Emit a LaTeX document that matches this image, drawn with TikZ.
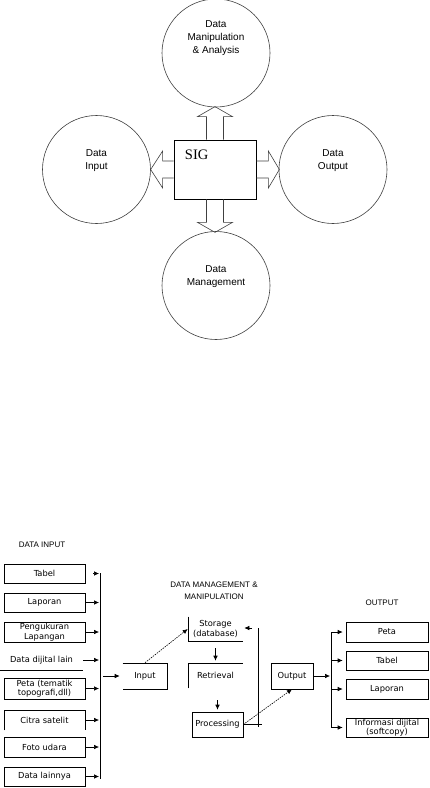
\documentclass[tikz,border=0pt]{standalone}
\usepackage{fontspec}
\setmainfont{Liberation Sans}
\newfontfamily\sigfont{Liberation Serif}
\newfontfamily\widefont{DejaVu Sans}
\usepackage{tikz}
\usetikzlibrary{calc,arrows.meta,positioning}
\newcommand\boxfont{\widefont\fontsize{8.3}{9.5}\selectfont}
\newcommand\ttlfont{\fontsize{8}{12}\selectfont}

\begin{document}
\begin{tikzpicture}[x=1pt, y=-1pt,
  bubble/.style={circle, draw=black!75, line width=0.6pt, minimum size=108pt, inner sep=0pt},
  bubtxt/.style={font=\fontsize{10}{13}\selectfont, align=center},
  blk/.style={draw=black!75, line width=0.6pt},
  box/.style={draw, line width=0.6pt, minimum width=81pt, minimum height=19pt, inner sep=0pt, font=\boxfont, align=center},
  openbox/.style={box, draw=none},
  ttl/.style={font=\ttlfont, align=center},
  arr/.style={-{Latex[length=5pt,width=4.5pt]}, line width=0.6pt},
  dotarr/.style={arr, dash pattern=on 1.5pt off 1pt}
]
\useasboundingbox (0,0) rectangle (429,788);
% ---- SIG overview
\node[draw, line width=0.7pt, minimum width=82pt, minimum height=59pt] (sig) at (215,169.5) {};
\node[font=\sigfont\fontsize{14.5}{16}\selectfont] (sigtxt) at ($(sig.north west)+(23,15)$) {SIG};
\node[bubble] (manip) at (216,53) {};
\node[bubtxt] (maniptxt) at ($(manip)+(0,-14.5)$) {Data\\Manipulation\\\& Analysis};
\node[bubble] (din) at (96.5,169.5) {};
\node[bubtxt] (dintxt) at ($(din)+(0,-9)$) {Data\\Input};
\node[bubble] (dout) at (333,169.5) {};
\node[bubtxt] (douttxt) at ($(dout)+(0,-9)$) {Data\\Output};
\node[bubble] (dman) at (216,285.5) {};
\node[bubtxt] (dmantxt) at ($(dman)+(0,-8.5)$) {Data\\Management};
% block arrows out of the box
\draw[blk] ([xshift=-8.5pt]sig.north) -- ++(0,-23) -- ++(-9,0) -- ++(17.5,-10) -- ++(17.5,10) -- ++(-9,0) -- ++(0,23);
\draw[blk] ([xshift=-8.5pt]sig.south) -- ++(0,23) -- ++(-9,0) -- ++(17.5,10) -- ++(17.5,-10) -- ++(-9,0) -- ++(0,-23);
\draw[blk] ([yshift=8.5pt]sig.west) -- ++(-11,0) -- ++(0,-10) -- ++(-12,18.5) -- ++(12,18.5) -- ++(0,-10) -- ++(11,0);
\draw[blk] ([yshift=8.5pt]sig.east) -- ++(12,0) -- ++(0,-10) -- ++(11,18.5) -- ++(-11,18.5) -- ++(0,-10) -- ++(-12,0);
% ---- data input
\node[ttl] (tin) at (42,545) {DATA INPUT};
\node[box] (tabel) at (44.5,573.5) {Tabel};
\node[box] (lap) at (44.5,602.5) {Laporan};
\node[box, minimum height=20pt] (ukur) at (44.5,632) {Pengukuran\\Lapangan};
\node[openbox, minimum width=83pt, minimum height=20pt] (dijital) at (41.5,660) {Data dijital lain};
\draw (dijital.south west) -- (dijital.south east);
\node[box, minimum height=21pt] (peta) at (44.5,688.5) {Peta (tematik\\topografi,dll)};
\node[openbox, minimum height=20pt] (citra) at (44.5,720) {Citra satelit};
\draw (citra.south west) -- (citra.north west) -- (citra.north east) -- (citra.south east);
\node[box, minimum height=20pt] (foto) at (44.5,747) {Foto udara};
\node[box] (lain) at (44.5,776.5) {Data lainnya};
\coordinate (lbtop) at (100,573);
\coordinate (lbbot) at (100,779);
\draw (lbtop) -- (lbbot);
\draw[arr, shorten <=8pt, shorten >=1pt] (tabel.east) -- (tabel.east -| lbtop);
\foreach \b in {lap,ukur,dijital,peta,citra,foto,lain}
  \draw[arr, shorten >=1pt] (\b.east) -- (\b.east -| lbtop);
% ---- management & manipulation
\node[ttl] (tmg) at (214,591) {DATA MANAGEMENT \&\\MANIPULATION};
\node[openbox, minimum width=44pt, minimum height=26pt] (inp) at (145,676) {Input};
\draw (inp.north west) -- (inp.north east) -- (inp.south east) -- (inp.south west);
\draw[arr, shorten <=3pt, shorten >=3pt] (inp.west -| lbtop) -- (inp.west);
\node[openbox, minimum width=55pt, minimum height=24pt] (stor) at (215.5,629) {Storage\\(database)};
\draw (stor.north west) -- (stor.south west) -- (stor.south east);
\node[openbox, minimum width=55pt, minimum height=25pt] (retr) at (215.5,675.5) {Retrieval};
\draw (retr.south west) -- (retr.north west) -- (retr.north east);
\node[box, minimum width=51pt, minimum height=25pt] (proc) at (217.5,724.5) {Processing};
\node[box, minimum width=42pt, minimum height=26pt] (outp) at (292,676) {Output};
\draw[dotarr] (inp.north) -- (stor.west);
\draw[arr, shorten <=7pt, shorten >=2pt] (stor.south) -- (stor.south |- retr.north);
\draw[arr, shorten <=12pt, shorten >=2pt] (retr.south -| proc.north) -- (proc.north);
\coordinate (fbtop) at (258,628);
\coordinate (fbbot) at (258,727);
\draw (fbtop) -- (fbbot);
\draw (proc.east) -- ++(19,0);
\draw[arr, shorten <=6pt, shorten >=1pt] (fbtop) -- (stor.east |- fbtop);
\draw[dotarr] (proc.east) -- (outp.south);
% ---- output
\node[ttl] (tout) at (382,603) {OUTPUT};
\coordinate (rbtop) at (331,632);
\coordinate (rbbot) at (331,727);
\draw (rbtop) -- (rbbot);
\draw[arr, shorten >=1pt] (outp.east) -- (outp.east -| rbtop);
\node[box, minimum width=82pt, minimum height=20pt] (petab) at (387,632) {Peta};
\node[box, minimum width=82pt] (tabelb) at (387,660.5) {Tabel};
\node[box, minimum width=82pt, minimum height=20pt] (lapb) at (387,689) {Laporan};
\node[box, minimum width=82pt] (info) at (387,727.5) {Informasi dijital\\(softcopy)};
\foreach \b in {petab,tabelb,lapb,info}
  \draw[arr, shorten >=3pt] (\b.west -| rbtop) -- (\b.west);
\end{tikzpicture}
\end{document}
